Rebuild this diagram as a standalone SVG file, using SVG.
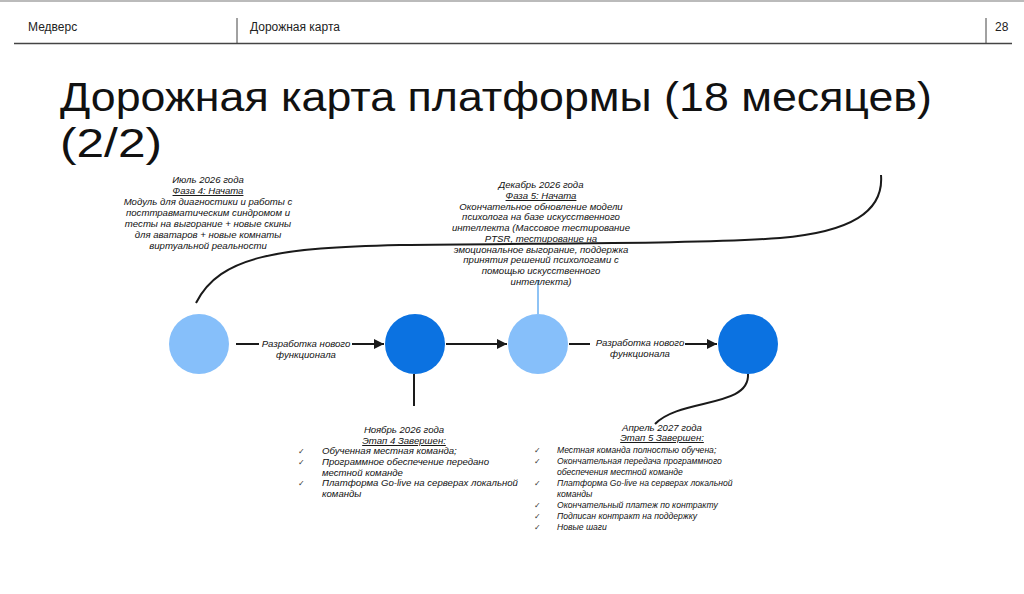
<svg xmlns="http://www.w3.org/2000/svg" width="1024" height="594" viewBox="0 0 1024 594">
<defs>
<style>
.hdr{font-family:"Liberation Sans",Arial,sans-serif;font-size:12px;fill:#222}
.ttl{font-family:"Liberation Sans",Arial,sans-serif;font-size:41px;fill:#111}
.t{font-family:"Liberation Sans",Arial,sans-serif;font-size:9.6px;fill:#111;font-style:italic}
.s{font-size:8.6px}
.c{text-anchor:middle}
.u{text-decoration:underline}
.ck{font-family:"DejaVu Sans",sans-serif;font-size:8px;fill:#333}
.lb{font-family:"Liberation Sans",Arial,sans-serif;font-size:9.6px;fill:#111;font-style:italic;text-anchor:middle}
.ln{stroke:#1a1a1a;stroke-width:2;fill:none}
.light{fill:#86BFFA}
.dark{fill:#0B72E1}
</style>
<marker id="ah" viewBox="0 0 10 10" refX="10" refY="5" markerWidth="5" markerHeight="5" orient="auto" markerUnits="strokeWidth">
<path d="M0,0 L10,5 L0,10 z" fill="#1a1a1a"/>
</marker>
</defs>
<rect width="1024" height="594" fill="#fff"/>
<line x1="0" y1="1" x2="1024" y2="1" stroke="#bbb" stroke-width="2"/>
<g id="header">
<text class="hdr" x="28" y="31">Медверс</text>
<line x1="237" y1="18" x2="237" y2="43" stroke="#444" stroke-width="1"/>
<text class="hdr" x="250" y="31">Дорожная карта</text>
<line x1="986" y1="18" x2="986" y2="43" stroke="#444" stroke-width="1"/>
<text class="hdr" x="995" y="31">28</text>
<line x1="14" y1="43.5" x2="1012" y2="43.5" stroke="#444" stroke-width="1.5"/>
</g>
<g id="title">
<text class="ttl" x="60" y="111" textLength="872" lengthAdjust="spacingAndGlyphs">Дорожная карта платформы (18 месяцев)</text>
<text class="ttl" x="60" y="157" textLength="102" lengthAdjust="spacingAndGlyphs">(2/2)</text>
</g>
<g id="connectors">
<path class="ln" d="M196,303 C220,255 280,248 400,245 C550,243 700,244 780,238 C850,232 884,212 881,175"/>
<line class="ln" x1="236" y1="344" x2="259" y2="344"/>
<line class="ln" x1="352" y1="344" x2="384" y2="344" marker-end="url(#ah)"/>
<line class="ln" x1="446" y1="344" x2="507" y2="344" marker-end="url(#ah)"/>
<line class="ln" x1="569" y1="344" x2="590" y2="344"/>
<line class="ln" x1="685" y1="344" x2="717" y2="344" marker-end="url(#ah)"/>
<line class="ln" x1="414" y1="374" x2="414" y2="406"/>
<line x1="538" y1="280" x2="538" y2="314" stroke="#8EC3F5" stroke-width="2"/>
<path class="ln" d="M748,374 C750,408 680,398 655,424"/>
<text class="lb" x="306" y="347">Разработка нового</text>
<text class="lb" x="306" y="358">функционала</text>
<text class="lb" x="640" y="346">Разработка нового</text>
<text class="lb" x="640" y="357">функционала</text>
</g>
<g id="node1"><circle class="light" cx="199" cy="344" r="30"/></g>
<g id="node2"><circle class="dark" cx="415" cy="344" r="30"/></g>
<g id="node3"><circle class="light" cx="538" cy="344" r="30"/></g>
<g id="node4"><circle class="dark" cx="748" cy="344" r="30"/></g>
<g id="july">
<text class="t c" x="208" y="183">Июль 2026 года</text>
<text class="t c u" x="208" y="194">Фаза 4: Начата</text>
<text class="t c" x="208" y="205">Модуль для диагностики и работы с</text>
<text class="t c" x="208" y="216">посттравматическим синдромом и</text>
<text class="t c" x="208" y="227">тесты на выгорание + новые скины</text>
<text class="t c" x="208" y="238">для аватаров + новые комнаты</text>
<text class="t c" x="208" y="249">виртуальной реальности</text>
</g>
<g id="december">
<text class="t c" x="541" y="188">Декабрь 2026 года</text>
<text class="t c u" x="541" y="199">Фаза 5: Начата</text>
<text class="t c" x="541" y="209.5">Окончательное обновление модели</text>
<text class="t c" x="541" y="220">психолога на базе искусственного</text>
<text class="t c" x="541" y="231">интеллекта (Массовое тестирование</text>
<text class="t c" x="541" y="242">PTSR, тестирование на</text>
<text class="t c" x="541" y="252.5">эмоциональное выгорание, поддержка</text>
<text class="t c" x="541" y="263">принятия решений психологами с</text>
<text class="t c" x="541" y="274">помощью искусственного</text>
<text class="t c" x="541" y="284.5">интеллекта)</text>
</g>
<g id="november">
<text class="t c" x="404" y="433">Ноябрь 2026 года</text>
<text class="t c u" x="404" y="444">Этап 4 Завершен:</text>
<text class="ck" x="298" y="454">✓</text>
<text class="t" x="322" y="454">Обученная местная команда;</text>
<text class="ck" x="298" y="465">✓</text>
<text class="t" x="322" y="465">Программное обеспечение передано</text>
<text class="t" x="322" y="476">местной команде</text>
<text class="ck" x="298" y="486">✓</text>
<text class="t" x="322" y="486">Платформа Go-live на серверах локальной</text>
<text class="t" x="322" y="497">команды</text>
</g>
<g id="april">
<text class="t c" x="662" y="431">Апрель 2027 года</text>
<text class="t c u" x="662" y="441">Этап 5 Завершен:</text>
<text class="ck" x="534" y="453">✓</text>
<text class="t s" x="557" y="453">Местная команда полностью обучена;</text>
<text class="ck" x="534" y="464">✓</text>
<text class="t s" x="557" y="464">Окончательная передача программного</text>
<text class="t s" x="557" y="475">обеспечения местной команде</text>
<text class="ck" x="534" y="486">✓</text>
<text class="t s" x="557" y="486">Платформа Go-live на серверах локальной</text>
<text class="t s" x="557" y="497">команды</text>
<text class="ck" x="534" y="508">✓</text>
<text class="t s" x="557" y="508">Окончательный платеж по контракту</text>
<text class="ck" x="534" y="519">✓</text>
<text class="t s" x="557" y="519">Подписан контракт на поддержку</text>
<text class="ck" x="534" y="530">✓</text>
<text class="t s" x="557" y="530">Новые шаги</text>
</g>
</svg>
